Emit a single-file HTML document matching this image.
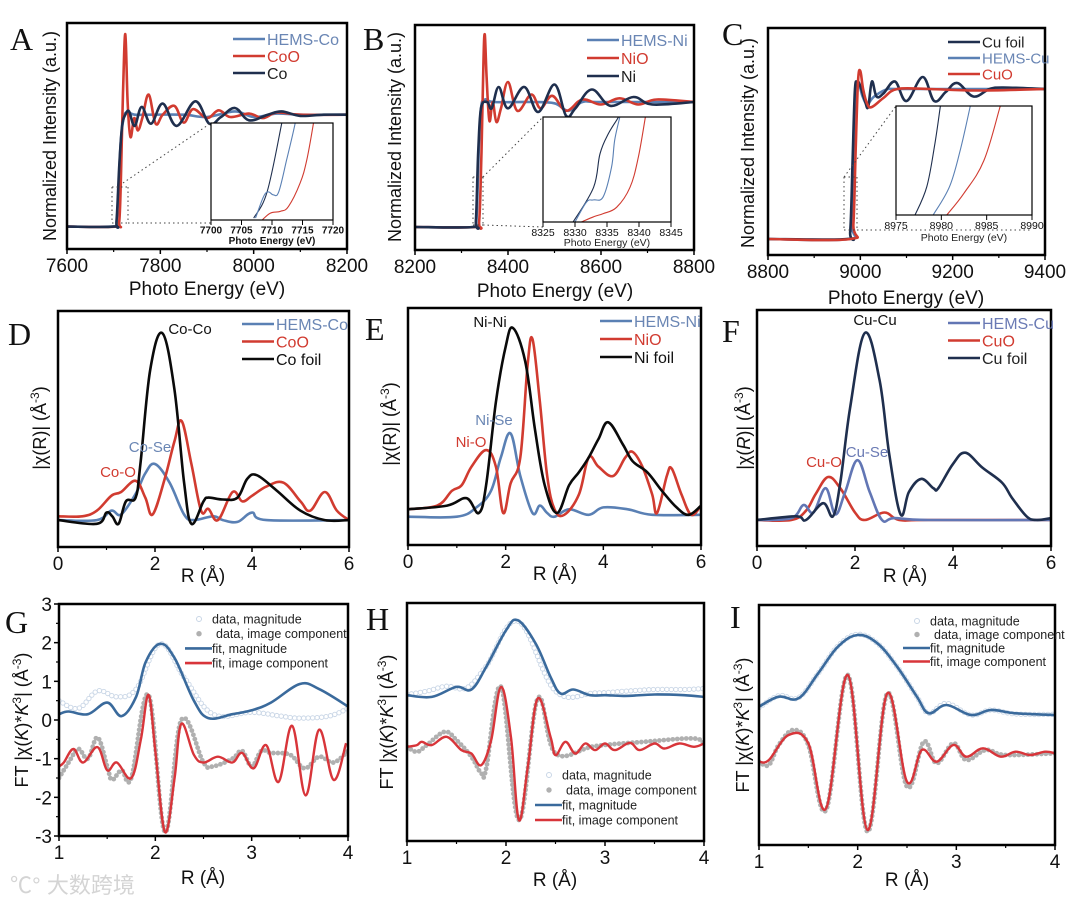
<!DOCTYPE html>
<html><head><meta charset="utf-8"><style>
html,body{margin:0;padding:0;background:#fff;}
svg{display:block;font-family:"Liberation Sans",sans-serif;}
</style></head><body>
<svg id="fig" width="1080" height="901" viewBox="0 0 1080 901" xmlns="http://www.w3.org/2000/svg">
<rect width="1080" height="901" fill="#fff"/>
<text x="10" y="893" font-family="'Liberation Sans','Noto Sans CJK SC',sans-serif" font-size="22" fill="#d4d4d4">℃° 大数跨境</text>
</svg>
<script>
// ---------- DATA ----------
const A_HEMS=[[7600,0],[7700,0],[7706,0.02],[7710,0.3],[7715,0.75],[7722,0.98],[7730,1.02],[7745,1.0],[7780,1.0],[7850,1.0],[7900,0.98],[7960,1.03],[8000,0.98],[8050,1.01],[8100,1.0],[8200,1.0]];
const A_COO=[[7600,0],[7705,0],[7712,0.05],[7716,0.5],[7720,1.2],[7725,1.72],[7730,1.1],[7736,0.8],[7744,0.97],[7752,0.86],[7762,0.98],[7775,1.18],[7790,0.92],[7805,1.0],[7830,1.08],[7850,0.93],[7870,1.05],[7900,0.97],[7925,1.04],[7950,0.98],[7990,1.01],[8020,0.97],[8050,1.02],[8100,1.0],[8200,1.0]];
const A_CO=[[7600,0],[7700,0],[7706,0.05],[7712,0.55],[7718,0.9],[7725,1.0],[7733,1.03],[7745,0.9],[7760,1.07],[7780,0.92],[7805,1.1],[7835,0.9],[7875,1.12],[7905,0.92],[7930,0.98],[7960,1.06],[7990,0.95],[8030,1.0],[8060,1.03],[8100,0.99],[8150,1.0],[8200,1.0]];
const IA_CO=[[7707,0.02],[7709.2,0.29],[7711.6,1.0],[7712.2,1.2]];
const IA_HEMS=[[7707.3,0.02],[7708.6,0.24],[7709.4,0.29],[7710.2,0.26],[7711.1,0.29],[7712.4,0.62],[7713.8,1.0],[7714.2,1.2]];
const IA_COO=[[7708.4,0],[7709.7,0.07],[7711.4,0.09],[7712.7,0.14],[7714.6,0.38],[7715.7,0.62],[7716.8,1.0],[7717.2,1.2]];
const B_HEMS=[[8200,0],[8325,0],[8332,0.05],[8337,0.6],[8342,0.95],[8350,1.02],[8370,1.0],[8450,1.0],[8500,0.99],[8530,0.93],[8560,1.0],[8600,1.0],[8800,1.0]];
const B_NIO=[[8200,0],[8330,0],[8338,0.05],[8343,0.6],[8347,1.3],[8350,1.54],[8354,1.2],[8360,0.85],[8367,1.0],[8375,0.84],[8385,0.95],[8400,1.16],[8420,0.93],[8450,1.06],[8470,0.95],[8495,1.05],[8525,0.93],[8560,1.02],[8600,0.98],[8640,1.03],[8680,0.98],[8720,1.02],[8800,1.0]];
const B_NI=[[8200,0],[8325,0],[8331,0.05],[8336,0.6],[8342,0.95],[8355,1.0],[8365,0.95],[8380,1.12],[8400,0.95],[8435,1.12],[8465,0.92],[8500,1.14],[8525,0.89],[8545,0.95],[8580,1.1],[8620,0.97],[8670,1.04],[8710,0.98],[8800,1.0]];
const IB_NI=[[8329.7,0],[8332.9,0.33],[8333.9,0.65],[8335.2,0.84],[8336.8,1.0],[8337.5,1.1]];
const IB_HEMS=[[8330,0],[8331.8,0.19],[8332.9,0.21],[8334.4,0.24],[8335.7,0.52],[8336.2,0.78],[8337,1.0],[8337.3,1.1]];
const IB_NIO=[[8331,0],[8332.9,0.05],[8334.4,0.08],[8336.5,0.14],[8338.6,0.33],[8339.9,0.62],[8341,1.0],[8341.3,1.1]];
const C_CUFOIL=[[8800,0],[8970,0],[8978,0.05],[8983,0.5],[8988,0.98],[8993,1.05],[9000,1.02],[9010,0.92],[9017,0.88],[9025,1.05],[9035,0.95],[9050,0.97],[9075,1.05],[9100,0.92],[9135,1.08],[9160,0.92],[9185,0.98],[9210,1.04],[9245,0.95],[9280,1.0],[9310,1.01],[9400,1.0]];
const C_HEMS=[[8800,0],[8975,0],[8982,0.1],[8987,0.6],[8992,1.0],[8998,1.02],[9005,0.95],[9015,0.9],[9030,0.95],[9060,1.0],[9100,1.0],[9400,1.0]];
const C_CUO=[[8800,0],[8978,0],[8985,0.1],[8990,0.6],[8995,1.05],[9000,1.12],[9006,1.0],[9015,0.9],[9025,0.88],[9050,0.94],[9080,1.0],[9150,1.0],[9250,0.99],[9400,1.0]];
const IC_CUFOIL=[[8977.1,0],[8978.4,0.26],[8979.3,0.66],[8979.9,1.0],[8980.1,1.1]];
const IC_HEMS=[[8979.1,0],[8980.9,0.26],[8982.1,0.6],[8983.2,1.0],[8983.5,1.1]];
const IC_CUO=[[8980.6,0],[8982.5,0.2],[8984.7,0.5],[8986.5,1.0],[8986.9,1.1]];
const D_FOIL=[[0,0],[0.8,-0.02],[1.0,0.04],[1.12,0.02],[1.25,-0.02],[1.4,0.1],[1.6,0.12],[1.7,0.3],[1.9,0.8],[2.15,1.0],[2.4,0.7],[2.6,0.2],[2.75,-0.02],[3.0,0.1],[3.1,0.12],[3.4,0.11],[3.7,0.12],[3.9,0.22],[4.1,0.24],[4.5,0.16],[5.0,0.05],[5.5,0.0],[6,0.0]];
const D_COO=[[0,0.02],[0.5,0.02],[0.8,0.05],[1.1,0.13],[1.3,0.15],[1.6,0.21],[1.8,0.12],[1.95,0.03],[2.2,0.22],[2.4,0.42],[2.55,0.53],[2.75,0.3],[2.95,0.05],[3.1,0.06],[3.3,0.0],[3.6,0.15],[3.8,0.1],[4.0,0.13],[4.3,0.18],[4.65,0.2],[5.0,0.1],[5.2,0.05],[5.5,0.15],[5.75,0.05],[6,0.0]];
const D_HEMS=[[0,0],[0.8,0],[1.1,0.05],[1.3,0.03],[1.6,0.14],[1.8,0.25],[2.0,0.3],[2.3,0.2],[2.6,0.03],[2.8,0.0],[3.2,0.02],[3.4,0.0],[3.7,-0.01],[4.0,0.04],[4.3,0.0],[6,0.0]];
const E_FOIL=[[0,0.02],[0.8,0.04],[1.2,0.08],[1.45,0.0],[1.6,0.15],[1.8,0.6],[2.0,0.9],[2.15,1.0],[2.4,0.82],[2.6,0.45],[2.8,0.15],[3.05,0.0],[3.3,0.15],[3.5,0.22],[3.7,0.3],[3.9,0.4],[4.1,0.49],[4.4,0.37],[4.6,0.28],[4.9,0.22],[5.2,0.12],[5.5,0.03],[5.75,-0.01],[6,0.04]];
const E_NIO=[[0,0.02],[0.6,0.04],[0.9,0.12],[1.1,0.15],[1.3,0.25],[1.6,0.34],[1.8,0.25],[1.95,0.0],[2.1,0.16],[2.3,0.3],[2.45,0.8],[2.55,0.94],[2.7,0.6],[2.85,0.2],[3.0,0.02],[3.2,-0.01],[3.5,0.1],[3.7,0.3],[3.9,0.25],[4.2,0.2],[4.45,0.3],[4.6,0.33],[4.8,0.25],[5.0,0.1],[5.1,0.0],[5.3,0.2],[5.4,0.24],[5.6,0.1],[5.8,-0.01],[6,0.04]];
const E_HEMS=[[0,-0.02],[1.0,-0.02],[1.4,0.03],[1.7,0.12],[1.9,0.3],[2.1,0.43],[2.3,0.2],[2.55,0.0],[2.7,0.04],[2.85,0.0],[3.0,-0.02],[3.3,0.02],[3.7,-0.01],[4.0,0.03],[4.5,0.02],[5.0,-0.01],[6,-0.01]];
const F_FOIL=[[0,0],[0.8,0.02],[1.0,0.0],[1.35,0.09],[1.55,0.02],[1.7,0.2],[1.9,0.6],[2.2,1.0],[2.5,0.75],[2.7,0.35],[2.93,0.03],[3.1,0.15],[3.35,0.22],[3.6,0.17],[3.7,0.17],[4.0,0.3],[4.25,0.36],[4.6,0.28],[5.0,0.2],[5.2,0.12],[5.5,0.02],[5.7,0.0],[6,0.01]];
const F_CUO=[[0,0],[0.7,0],[1.0,0.05],[1.2,0.14],[1.45,0.23],[1.7,0.17],[2.0,0.04],[2.2,0.0],[2.6,0.04],[2.9,0.0],[3.5,0.0],[6,0.0]];
const F_HEMS=[[0,0],[0.7,0.01],[0.95,0.08],[1.15,0.04],[1.4,0.17],[1.6,0.03],[1.8,0.15],[2.05,0.32],[2.3,0.15],[2.55,0.0],[2.8,0.01],[3.5,0.0],[6,0.0]];
const G_FITMAG=[[1,0.15],[1.1,0.22],[1.3,0.15],[1.5,0.45],[1.65,0.1],[1.8,0.6],[1.9,1.5],[2.05,1.97],[2.2,1.6],[2.4,0.5],[2.55,0.05],[2.8,0.15],[3.0,0.25],[3.2,0.45],[3.5,0.93],[3.7,0.8],[4.0,0.35]];
const G_DATAMAG=[[1,0.5],[1.2,0.3],[1.4,0.75],[1.6,0.6],[1.8,0.8],[2.05,1.97],[2.3,1.1],[2.6,0.15],[3.0,0.2],[3.3,0.1],[3.5,0.05],[3.8,0.1],[4.0,0.3]];
const G_FITIM=[[1,-1.2],[1.05,-1.1],[1.15,-0.75],[1.25,-1.1],[1.4,-0.7],[1.5,-1.3],[1.6,-1.1],[1.75,-1.5],[1.85,-0.5],[1.93,0.65],[2.0,-0.8],[2.1,-2.9],[2.2,-1.5],[2.27,-0.1],[2.4,-0.9],[2.5,-1.1],[2.65,-0.95],[2.8,-1.1],[2.9,-0.85],[3.02,-1.25],[3.15,-0.65],[3.28,-1.6],[3.42,-0.15],[3.56,-1.95],[3.7,-0.25],[3.85,-1.55],[3.98,-0.6]];
const G_DATAIM=[[1,-1.5],[1.1,-1.1],[1.2,-0.75],[1.3,-1.0],[1.4,-0.45],[1.5,-1.2],[1.55,-1.55],[1.65,-1.3],[1.75,-1.5],[1.93,0.65],[2.1,-2.9],[2.27,0.0],[2.5,-1.1],[2.6,-1.2],[2.8,-1.0],[2.9,-0.8],[3.0,-1.2],[3.1,-0.8],[3.2,-0.85],[3.4,-0.9],[3.55,-1.25],[3.7,-0.95],[3.85,-1.1],[4.0,-0.8]];
const H_FITMAG=[[1,438],[1.25,433],[1.5,463],[1.65,455],[1.8,523],[2.0,633],[2.12,663],[2.3,593],[2.45,493],[2.55,443],[2.68,455],[2.85,438],[3.0,438],[3.2,436],[3.5,440],[3.8,438],[4.0,433]];
const H_DATAMAG=[[1,440],[1.2,450],[1.4,465],[1.6,460],[1.8,525],[2.12,660],[2.5,450],[2.9,445],[3.2,450],[3.5,455],[3.8,455],[4.0,458]];
const H_FITIM=[[1,283],[1.1,288],[1.15,298],[1.25,288],[1.4,313],[1.55,273],[1.65,263],[1.75,228],[1.85,303],[1.95,463],[2.05,313],[2.13,63],[2.22,223],[2.32,428],[2.45,313],[2.5,258],[2.6,298],[2.7,263],[2.8,293],[2.9,273],[3.0,293],[3.1,273],[3.25,295],[3.35,273],[3.5,293],[3.6,278],[3.75,293],[3.9,283],[4.0,293]];
const H_DATAIM=[[1,283],[1.1,268],[1.2,288],[1.38,328],[1.5,303],[1.65,253],[1.75,203],[1.8,218],[1.95,463],[2.13,63],[2.32,428],[2.5,263],[2.9,285],[3.4,298],[3.9,308],[4.0,288]];
const I_FITMAG=[[1,415],[1.2,445],[1.4,440],[1.6,515],[1.8,595],[2.0,630],[2.2,605],[2.4,535],[2.6,445],[2.72,395],[2.9,420],[3.15,390],[3.35,405],[3.6,395],[4.0,390]];
const I_DATAMAG=[[1,412],[1.2,448],[1.4,442],[1.6,515],[1.8,597],[2.0,632],[2.2,605],[2.4,535],[2.6,445],[2.72,395],[2.9,425],[3.15,390],[3.35,405],[3.6,393],[4.0,392]];
const I_FITIM=[[1,250],[1.1,255],[1.3,330],[1.5,305],[1.68,110],[1.9,510],[2.1,45],[2.3,455],[2.5,190],[2.65,285],[2.8,250],[2.97,300],[3.1,265],[3.27,290],[3.45,265],[3.6,280],[3.75,270],[3.9,280],[4.0,275]];
const I_DATAIM=[[1,250],[1.1,240],[1.2,300],[1.35,345],[1.5,300],[1.68,105],[1.9,510],[2.1,40],[2.3,455],[2.5,175],[2.67,310],[2.8,245],[2.97,305],[3.1,255],[3.3,285],[3.5,270],[4.0,275]];
const XT_A=[7600,7800,8000,8200], XT_B=[8200,8400,8600,8800], XT_C=[8800,9000,9200,9400];
const XT_R=[0,2,4,6], XT_FT=[1,2,3,4], YT_G=[-3,-2,-1,0,1,2,3];
const XT_IA=[7700,7705,7710,7715,7720], XT_IB=[8325,8330,8335,8340,8345], XT_IC=[8975,8980,8985,8990];

// ---------- HELPERS ----------
const NS="http://www.w3.org/2000/svg";
const svg=document.getElementById('fig');
let clipId=0;
function mk(tag,attrs,parent){const e=document.createElementNS(NS,tag);for(const k in attrs)e.setAttribute(k,attrs[k]);(parent||svg).appendChild(e);return e;}
function sx(p,v){return p.x0+(v-p.xd[0])/(p.xd[1]-p.xd[0])*(p.x1-p.x0);}
function sy(p,v){return p.y1-(v-p.yd[0])/(p.yd[1]-p.yd[0])*(p.y1-p.y0);}
function pathD(p,pts){
  const P=pts.map(q=>[sx(p,q[0]),sy(p,q[1])]);
  let d='M'+P[0][0].toFixed(1)+','+P[0][1].toFixed(1);
  for(let i=0;i<P.length-1;i++){
    const p0=P[Math.max(0,i-1)],p1=P[i],p2=P[i+1],p3=P[Math.min(P.length-1,i+2)];
    const t=0.18;
    const c1=[p1[0]+(p2[0]-p0[0])*t,p1[1]+(p2[1]-p0[1])*t];
    const c2=[p2[0]-(p3[0]-p1[0])*t,p2[1]-(p3[1]-p1[1])*t];
    d+=' C'+c1[0].toFixed(1)+','+c1[1].toFixed(1)+' '+c2[0].toFixed(1)+','+c2[1].toFixed(1)+' '+p2[0].toFixed(1)+','+p2[1].toFixed(1);
  }
  return d;
}
function clipFor(p){
  const id='c'+(clipId++);
  const cp=mk('clipPath',{id:id});
  mk('rect',{x:p.x0,y:p.y0,width:p.x1-p.x0,height:p.y1-p.y0},cp);
  return 'url(#'+id+')';
}
function series(p,pts,color,w,name,clip){
  const e=mk('path',{d:pathD(p,pts),fill:'none',stroke:color,'stroke-width':w,'stroke-linejoin':'round','clip-path':clip});
  
  
  return e;
}
function markers(p,pts,name,clip,filled){
  const tmp=mk('path',{d:pathD(p,pts),fill:'none',stroke:'none'});
  const L=tmp.getTotalLength();
  const g=mk('g',{'clip-path':clip});
  
  
  for(let s=0;s<=L;s+=4.5){
    const q=tmp.getPointAtLength(s);
    if(filled) mk('circle',{cx:q.x,cy:q.y,r:2.4,fill:'#b0b0b0'},g);
    else mk('circle',{cx:q.x,cy:q.y,r:2.2,fill:'none',stroke:'#c9d6e6','stroke-width':0.9},g);
  }
  tmp.remove();
}
function txt(x,y,s,opt,name){
  const e=mk('text',Object.assign({x:x,y:y},opt||{}));
  e.textContent=s;
  
  
  return e;
}
function frame(p,xt,xminor,name,fs,yt,ytl){
  const f=mk('rect',{x:p.x0,y:p.y0,width:p.x1-p.x0,height:p.y1-p.y0,fill:'none',stroke:'#000','stroke-width':p.sw||2.5});
  
  
  const tl=p.tl||5;
  xt.forEach(v=>{const x=sx(p,v);mk('line',{x1:x,x2:x,y1:p.y1,y2:p.y1+tl,stroke:'#000','stroke-width':p.sw?1:1.5});
    txt(x,p.y1+tl+fs*0.95+(p.tpad||0),String(v),{'font-size':fs,'text-anchor':'middle',fill:'#111','font-weight':p.bold?'bold':'normal'},name+'-xtick-label');});
  if(xminor)for(let i=0;i<xt.length-1;i++){const x=sx(p,(xt[i]+xt[i+1])/2);mk('line',{x1:x,x2:x,y1:p.y1,y2:p.y1+3,stroke:'#000','stroke-width':1.2});}
  if(yt){yt.forEach(v=>{const y=sy(p,v);mk('line',{x1:p.x0-5,x2:p.x0,y1:y,y2:y,stroke:'#000','stroke-width':1.5});
    txt(p.x0-7,y+7,String(v),{'font-size':fs,'text-anchor':'end',fill:'#111'},name+'-ytick-label');});
    for(let i=0;i<yt.length-1;i++){const y=sy(p,(yt[i]+yt[i+1])/2);mk('line',{x1:p.x0-3,x2:p.x0,y1:y,y2:y,stroke:'#000','stroke-width':1.2});}}
}
function ylabel(x,y,s,name,fs){
  const e=mk('text',{x:0,y:0,'font-size':fs||18,'text-anchor':'middle',transform:'translate('+x+','+y+') rotate(-90)',fill:'#111'});
  e.innerHTML=s;
  
  
}
function letter(x,y,s){txt(x,y,s,{'font-size':32,'font-family':"'Liberation Serif',serif",fill:'#111'},'panel-label-'+s.toLowerCase());}
function legend(x,y,dy,items,fs,name){
  items.forEach((it,i)=>{
    const yy=y+i*dy;
    const l=mk('line',{x1:x,x2:x+32,y1:yy,y2:yy,stroke:it[1],'stroke-width':2.6});
    
    
    txt(x+34,yy+fs*0.36,it[0],{'font-size':fs,fill:it[2]},name+'-entry');
  });
}
function dotted(x1,y1,x2,y2){mk('line',{x1:x1,y1:y1,x2:x2,y2:y2,stroke:'#444','stroke-width':1,'stroke-dasharray':'1.5,3'});}
function ftLegend(x,y,dy,fs,name){
  const c=mk('circle',{cx:x+14,cy:y,r:2.5,fill:'none',stroke:'#c9d6e6'});
  txt(x+27,y+fs*0.36,'data, magnitude',{'font-size':fs,fill:'#222'},name+'-entry');
  mk('circle',{cx:x+14,cy:y+dy,r:2.7,fill:'#b0b0b0'});
  txt(x+31,y+dy+fs*0.36,'data, image component',{'font-size':fs,fill:'#222'},name+'-entry');
  mk('line',{x1:x,x2:x+27,y1:y+2*dy,y2:y+2*dy,stroke:'#3a6a9c','stroke-width':2.6});
  txt(x+27,y+2*dy+fs*0.36,'fit, magnitude',{'font-size':fs,fill:'#222'},name+'-entry');
  mk('line',{x1:x,x2:x+27,y1:y+3*dy,y2:y+3*dy,stroke:'#d8353a','stroke-width':2.6});
  txt(x+27,y+3*dy+fs*0.36,'fit, image component',{'font-size':fs,fill:'#222'},name+'-entry');
}
const BLUE='#5a80b4', RED='#d13b30', NAVY='#1f2f4e', BLK='#0a0a0a';
const Y_A=(t)=>'Normalized Intensity (a.u.)';

// ---------- PANEL A ----------
{const p={x0:67,x1:347,y0:23,y1:249,xd:[7600,8200],yd:[-0.2,1.82]};const cl=clipFor(p);
series(p,A_HEMS,BLUE,2.6,'a-hems-co-line',cl);series(p,A_COO,RED,2.6,'a-coo-line',cl);series(p,A_CO,NAVY,2.6,'a-co-line',cl);
dotted(112,187,128,187);dotted(112,223,128,223);dotted(112,187,112,223);dotted(128,187,128,223);dotted(123,183,211,123);dotted(128,223,211,223);
frame(p,XT_A,true,'panel-a',19);letter(10,50,'A');
txt(207,295,'Photo Energy (eV)',{'font-size':19,'text-anchor':'middle',fill:'#111'},'a-x-axis-title');
ylabel(56,136,'Normalized Intensity (a.u.)','a-y-axis-title');
legend(233,39,17,[['HEMS-Co',BLUE,'#6a86b4'],['CoO',RED,RED],['Co',NAVY,'#222']],16,'a-legend');
const q={x0:211,x1:333,y0:123,y1:220,xd:[7700,7720],yd:[0,1],sw:1.2,tl:0,tpad:-1,bold:true};const c2=clipFor(q);
mk('rect',{x:211,y:123,width:122,height:97,fill:'#fff'});
series(q,IA_CO,NAVY,1.1,'a-inset-co',c2);series(q,IA_HEMS,BLUE,1.1,'a-inset-hems',c2);series(q,IA_COO,RED,1.1,'a-inset-coo',c2);
frame(q,XT_IA,false,'a-inset',10);
txt(272,244,'Photo Energy (eV)',{'font-size':10,'font-weight':'bold','text-anchor':'middle',fill:'#111'},'a-inset-x-title');}

// ---------- PANEL B ----------
{const p={x0:415,x1:694,y0:25,y1:250,xd:[8200,8800],yd:[-0.184,1.616]};const cl=clipFor(p);
series(p,B_HEMS,BLUE,2.6,'b-hems-ni-line',cl);series(p,B_NIO,RED,2.6,'b-nio-line',cl);series(p,B_NI,NAVY,2.6,'b-ni-line',cl);
dotted(473,177,483,177);dotted(473,225,483,225);dotted(473,177,473,225);dotted(483,177,483,225);dotted(483,177,543,117);dotted(483,225,543,227);
frame(p,XT_B,true,'panel-b',19);letter(363,50,'B');
txt(555,297,'Photo Energy (eV)',{'font-size':19,'text-anchor':'middle',fill:'#111'},'b-x-axis-title');
ylabel(401,137,'Normalized Intensity (a.u.)','b-y-axis-title');
legend(587,40,18,[['HEMS-Ni',BLUE,'#6a86b4'],['NiO',RED,RED],['Ni',NAVY,'#222']],16,'b-legend');
const q={x0:543,x1:671,y0:117,y1:222,xd:[8325,8345],yd:[0,1],sw:1.2,tl:0,tpad:-1};const c2=clipFor(q);
mk('rect',{x:543,y:117,width:128,height:105,fill:'#fff'});
series(q,IB_NI,NAVY,1.1,'b-inset-ni',c2);series(q,IB_HEMS,BLUE,1.1,'b-inset-hems',c2);series(q,IB_NIO,RED,1.1,'b-inset-nio',c2);
frame(q,XT_IB,false,'b-inset',10.5);
txt(607,246,'Photo Energy (eV)',{'font-size':10.5,'text-anchor':'middle',fill:'#222'},'b-inset-x-title');}

// ---------- PANEL C ----------
{const p={x0:768,x1:1045,y0:28,y1:255,xd:[8800,9400],yd:[-0.107,1.407]};const cl=clipFor(p);
series(p,C_HEMS,BLUE,2.6,'c-hems-cu-line',cl);series(p,C_CUFOIL,NAVY,2.6,'c-cu-foil-line',cl);series(p,C_CUO,RED,2.6,'c-cuo-line',cl);
dotted(844,177,857,177);dotted(844,230,857,230);dotted(844,177,844,230);dotted(857,177,857,230);dotted(844,177,896,106);dotted(857,230,1032,230);
frame(p,XT_C,true,'panel-c',19);letter(722,45,'C');
txt(906,304,'Photo Energy (eV)',{'font-size':19,'text-anchor':'middle',fill:'#111'},'c-x-axis-title');
ylabel(754,143,'Normalized Intensity (a.u.)','c-y-axis-title');
legend(948,42,16,[['Cu foil',NAVY,'#222'],['HEMS-Cu',BLUE,'#6a86b4'],['CuO',RED,RED]],15,'c-legend');
const q={x0:896,x1:1032,y0:106,y1:215,xd:[8975,8990],yd:[0,1],sw:1.2,tl:0,tpad:-1};const c2=clipFor(q);
mk('rect',{x:896,y:106,width:136,height:109,fill:'#fff'});
series(q,IC_CUFOIL,NAVY,1.1,'c-inset-cu-foil',c2);series(q,IC_HEMS,BLUE,1.1,'c-inset-hems',c2);series(q,IC_CUO,RED,1.1,'c-inset-cuo',c2);
frame(q,XT_IC,false,'c-inset',10.5);
txt(964,241,'Photo Energy (eV)',{'font-size':10.5,'text-anchor':'middle',fill:'#222'},'c-inset-x-title');}

// ---------- PANEL D ----------
{const p={x0:58,x1:349,y0:311,y1:547,xd:[0,6],yd:[-0.144,1.118]};const cl=clipFor(p);
series(p,D_HEMS,BLUE,2.6,'d-hems-co-line',cl);series(p,D_COO,RED,2.6,'d-coo-line',cl);series(p,D_FOIL,BLK,2.6,'d-co-foil-line',cl);
frame(p,XT_R,true,'panel-d',19);letter(8,345,'D');
txt(203,582,'R (Å)',{'font-size':19,'text-anchor':'middle',fill:'#111'},'d-x-axis-title');
ylabel(46,428,'|χ(R)| (Å<tspan dy="-7" font-size="12">-3</tspan><tspan dy="7">)</tspan>','d-y-axis-title');
legend(242,324,17.5,[['HEMS-Co',BLUE,'#6a86b4'],['CoO',RED,RED],['Co foil',BLK,'#111']],16,'d-legend');
txt(190,334,'Co-Co',{'font-size':15,'text-anchor':'middle',fill:'#111'},'d-peak-co-co');
txt(150,452,'Co-Se',{'font-size':15,'text-anchor':'middle',fill:'#6a86b4'},'d-peak-co-se');
txt(118,477,'Co-O',{'font-size':15,'text-anchor':'middle',fill:RED},'d-peak-co-o');}

// ---------- PANEL E ----------
{const p={x0:408,x1:701,y0:308,y1:545,xd:[0,6],yd:[-0.173,1.108]};const cl=clipFor(p);
series(p,E_HEMS,BLUE,2.6,'e-hems-ni-line',cl);series(p,E_NIO,RED,2.6,'e-nio-line',cl);series(p,E_FOIL,BLK,2.6,'e-ni-foil-line',cl);
frame(p,XT_R,true,'panel-e',19);letter(365,340,'E');
txt(555,580,'R (Å)',{'font-size':19,'text-anchor':'middle',fill:'#111'},'e-x-axis-title');
ylabel(396,424,'|χ(R)| (Å<tspan dy="-7" font-size="12">-3</tspan><tspan dy="7">)</tspan>','e-y-axis-title');
legend(600,321,18,[['HEMS-Ni',BLUE,'#6a86b4'],['NiO',RED,RED],['Ni foil',BLK,'#111']],16,'e-legend');
txt(490,327,'Ni-Ni',{'font-size':15,'text-anchor':'middle',fill:'#111'},'e-peak-ni-ni');
txt(494,425,'Ni-Se',{'font-size':15,'text-anchor':'middle',fill:'#6a86b4'},'e-peak-ni-se');
txt(471,447,'Ni-O',{'font-size':15,'text-anchor':'middle',fill:RED},'e-peak-ni-o');}

// ---------- PANEL F ----------
{const p={x0:757,x1:1051,y0:310,y1:546,xd:[0,6],yd:[-0.139,1.123]};const cl=clipFor(p);
series(p,F_CUO,RED,2.6,'f-cuo-line',cl);series(p,F_HEMS,'#6276b4',2.6,'f-hems-cu-line',cl);series(p,F_FOIL,NAVY,2.6,'f-cu-foil-line',cl);
frame(p,XT_R,true,'panel-f',19);letter(722,342,'F');
txt(905,582,'R (Å)',{'font-size':19,'text-anchor':'middle',fill:'#111'},'f-x-axis-title');
ylabel(750,428,'|χ(<tspan font-style="italic">R</tspan>)| (Å<tspan dy="-7" font-size="12">-3</tspan><tspan dy="7">)</tspan>','f-y-axis-title');
legend(948,323,17.5,[['HEMS-Cu','#6276b4','#6a7ab4'],['CuO',RED,RED],['Cu foil',NAVY,'#222']],16,'f-legend');
txt(875,325,'Cu-Cu',{'font-size':15,'text-anchor':'middle',fill:'#111'},'f-peak-cu-cu');
txt(867,457,'Cu-Se',{'font-size':15,'text-anchor':'middle',fill:'#6a7ab4'},'f-peak-cu-se');
txt(824,467,'Cu-O',{'font-size':15,'text-anchor':'middle',fill:RED},'f-peak-cu-o');}

// ---------- PANEL G ----------
{const p={x0:59,x1:348,y0:604,y1:836,xd:[1,4],yd:[-3,3]};const cl=clipFor(p);
markers(p,G_DATAMAG,'g-data-magnitude',cl,false);markers(p,G_DATAIM,'g-data-image',cl,true);
series(p,G_FITMAG,'#3a6a9c',2.6,'g-fit-magnitude',cl);series(p,G_FITIM,'#d8353a',2.4,'g-fit-image',cl);
frame(p,XT_FT,true,'panel-g',19,YT_G);letter(5,633,'G');
txt(203,884,'R (Å)',{'font-size':19,'text-anchor':'middle',fill:'#111'},'g-x-axis-title');
ylabel(28,720,'FT |χ(<tspan font-style="italic">K</tspan>)*<tspan font-style="italic">K</tspan><tspan dy="-7" font-size="12">3</tspan><tspan dy="7">| (Å</tspan><tspan dy="-7" font-size="12">-3</tspan><tspan dy="7">)</tspan>','g-y-axis-title');
ftLegend(185,619,14.7,12.5,'g-legend');}

// ---------- PANEL H ----------
{const p={x0:407,x1:704,y0:603,y1:841,xd:[1,4],yd:[0,715]};const cl=clipFor(p);
markers(p,H_DATAMAG,'h-data-magnitude',cl,false);markers(p,H_DATAIM,'h-data-image',cl,true);
series(p,H_FITMAG,'#3a6a9c',2.6,'h-fit-magnitude',cl);series(p,H_FITIM,'#d8353a',2.4,'h-fit-image',cl);
frame(p,XT_FT,true,'panel-h',19);letter(366,630,'H');
txt(555,886,'R (Å)',{'font-size':19,'text-anchor':'middle',fill:'#111'},'h-x-axis-title');
ylabel(393,722,'FT |χ(<tspan font-style="italic">K</tspan>)*<tspan font-style="italic">K</tspan><tspan dy="-7" font-size="12">3</tspan><tspan dy="7">| (Å</tspan><tspan dy="-7" font-size="12">-3</tspan><tspan dy="7">)</tspan>','h-y-axis-title');
ftLegend(535,775,15,12.5,'h-legend');}

// ---------- PANEL I ----------
{const p={x0:759,x1:1055,y0:605,y1:845,xd:[1,4],yd:[0,720]};const cl=clipFor(p);
markers(p,I_DATAMAG,'i-data-magnitude',cl,false);markers(p,I_DATAIM,'i-data-image',cl,true);
series(p,I_FITMAG,'#3a6a9c',2.6,'i-fit-magnitude',cl);series(p,I_FITIM,'#d8353a',2.4,'i-fit-image',cl);
frame(p,XT_FT,true,'panel-i',19);letter(730,628,'I');
txt(907,886,'R (Å)',{'font-size':19,'text-anchor':'middle',fill:'#111'},'i-x-axis-title');
ylabel(749,725,'FT |χ(<tspan font-style="italic">K</tspan>)*<tspan font-style="italic">K</tspan><tspan dy="-7" font-size="12">3</tspan><tspan dy="7">| (Å</tspan><tspan dy="-7" font-size="12">-3</tspan><tspan dy="7">)</tspan>','i-y-axis-title');
ftLegend(903,621,13.5,12.5,'i-legend');}
</script>
</body></html>
